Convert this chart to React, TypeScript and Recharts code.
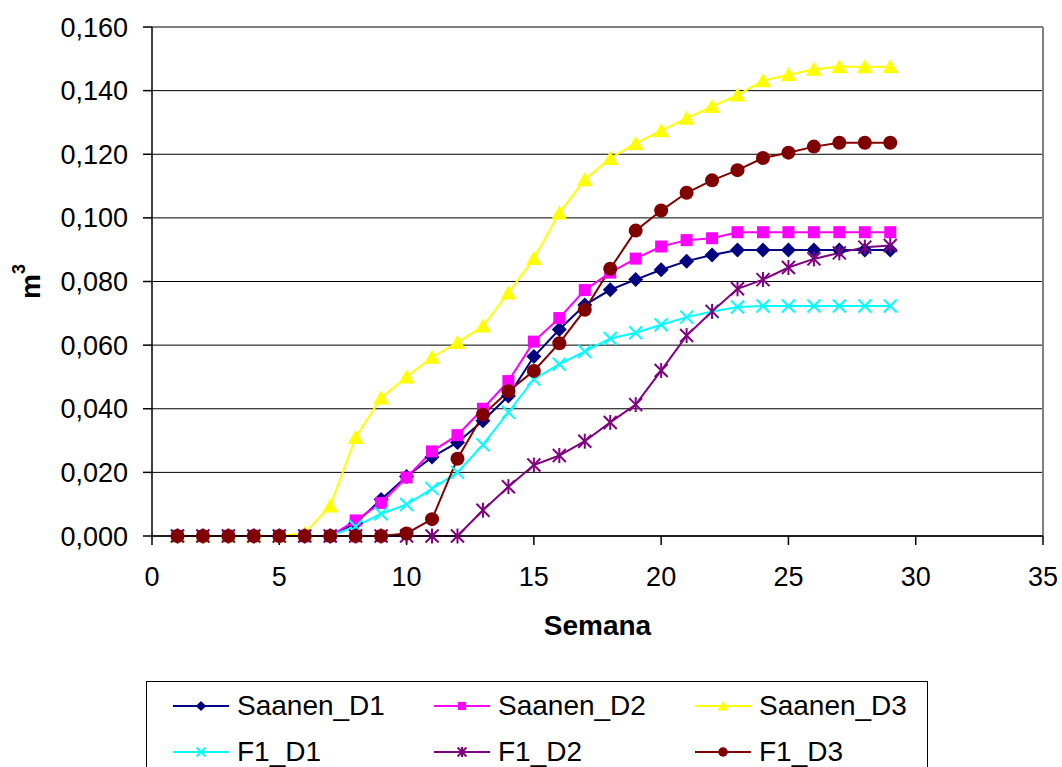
import React from 'react';
import { LineChart, Line, XAxis, YAxis, CartesianGrid, ReferenceLine } from 'recharts';

// Semanas e volumes acumulados (m³) por tratamento
const weeks = [1, 2, 3, 4, 5, 6, 7, 8, 9, 10, 11, 12, 13, 14, 15, 16, 17, 18, 19, 20, 21, 22, 23, 24, 25, 26, 27, 28, 29];

const saanenD1 = [0, 0, 0, 0, 0, 0, 0, 0.004, 0.0115, 0.0187, 0.0248, 0.0294, 0.0362, 0.044, 0.0564, 0.0649, 0.0726, 0.0774, 0.0806, 0.0837, 0.0864, 0.0883, 0.0899, 0.0899, 0.0899, 0.0899, 0.0899, 0.0899, 0.0899];
const saanenD2 = [0, 0, 0, 0, 0, 0, 0, 0.0049, 0.0104, 0.0184, 0.0266, 0.0317, 0.04, 0.0487, 0.0611, 0.0685, 0.0773, 0.0828, 0.0872, 0.091, 0.093, 0.0936, 0.0955, 0.0955, 0.0955, 0.0955, 0.0955, 0.0955, 0.0955];
const saanenD3 = [0, 0, 0, 0, 0, 0.0009, 0.0094, 0.031, 0.0434, 0.05, 0.0562, 0.0608, 0.066, 0.0764, 0.0872, 0.1015, 0.112, 0.1187, 0.1234, 0.1274, 0.1313, 0.135, 0.1386, 0.1431, 0.145, 0.1467, 0.1475, 0.1475, 0.1475];
const f1D1 = [0, 0, 0, 0, 0, 0, 0, 0.003, 0.007, 0.0099, 0.0149, 0.02, 0.0287, 0.0389, 0.0493, 0.054, 0.058, 0.0621, 0.0639, 0.0664, 0.0688, 0.0706, 0.072, 0.0723, 0.0723, 0.0723, 0.0723, 0.0723, 0.0723];
const f1D2 = [0, 0, 0, 0, 0, 0, 0, 0, 0, 0, 0, 0, 0.0081, 0.0155, 0.0223, 0.0253, 0.0298, 0.0357, 0.0413, 0.052, 0.063, 0.0706, 0.0777, 0.0806, 0.0844, 0.0871, 0.089, 0.0908, 0.0913];
const f1D3 = [0, 0, 0, 0, 0, 0, 0, 0, 0, 0.0008, 0.0053, 0.0243, 0.0381, 0.0455, 0.0519, 0.0606, 0.0711, 0.084, 0.096, 0.1023, 0.1079, 0.1118, 0.115, 0.1188, 0.1205, 0.1224, 0.1236, 0.1236, 0.1236];

const xTicks = [0, 5, 10, 15, 20, 25, 30, 35];
const yTicks = [0, 0.02, 0.04, 0.06, 0.08, 0.1, 0.12, 0.14, 0.16];

type Shape = 'diamond' | 'square' | 'triangle' | 'x' | 'star' | 'circle';

const series: { key: string; name: string; color: string; shape: Shape }[] = [
  { key: 'saanenD1', name: 'Saanen_D1', color: '#000080', shape: 'diamond' },
  { key: 'saanenD2', name: 'Saanen_D2', color: '#FF00FF', shape: 'square' },
  { key: 'saanenD3', name: 'Saanen_D3', color: '#FFFF00', shape: 'triangle' },
  { key: 'f1D1', name: 'F1_D1', color: '#00FFFF', shape: 'x' },
  { key: 'f1D2', name: 'F1_D2', color: '#800080', shape: 'star' },
  { key: 'f1D3', name: 'F1_D3', color: '#800000', shape: 'circle' },
];

const data = weeks.map((week, i) => ({
  week,
  saanenD1: saanenD1[i],
  saanenD2: saanenD2[i],
  saanenD3: saanenD3[i],
  f1D1: f1D1[i],
  f1D2: f1D2[i],
  f1D3: f1D3[i],
}));

const FONT = '"Liberation Sans", Arial, sans-serif';

function Marker({ cx, cy, shape, color, s = 1 }: { cx: number; cy: number; shape: Shape; color: string; s?: number }) {
  switch (shape) {
    case 'diamond':
      return <polygon points={`${cx},${cy - 7.5 * s} ${cx + 7.5 * s},${cy} ${cx},${cy + 7.5 * s} ${cx - 7.5 * s},${cy}`} fill={color} />;
    case 'square':
      return <rect x={cx - 6 * s} y={cy - 6 * s} width={12 * s} height={12 * s} fill={color} />;
    case 'triangle':
      return <polygon points={`${cx},${cy - 7.5 * s} ${cx + 8 * s},${cy + 6.5 * s} ${cx - 8 * s},${cy + 6.5 * s}`} fill={color} />;
    case 'x':
      return (
        <g stroke={color} strokeWidth={2}>
          <line x1={cx - 6.5 * s} y1={cy - 6.5 * s} x2={cx + 6.5 * s} y2={cy + 6.5 * s} />
          <line x1={cx - 6.5 * s} y1={cy + 6.5 * s} x2={cx + 6.5 * s} y2={cy - 6.5 * s} />
        </g>
      );
    case 'star':
      return (
        <g stroke={color} strokeWidth={2}>
          <line x1={cx - 6.5 * s} y1={cy - 6.5 * s} x2={cx + 6.5 * s} y2={cy + 6.5 * s} />
          <line x1={cx - 6.5 * s} y1={cy + 6.5 * s} x2={cx + 6.5 * s} y2={cy - 6.5 * s} />
          <line x1={cx} y1={cy - 7.5 * s} x2={cx} y2={cy + 7.5 * s} />
        </g>
      );
    default:
      return <circle cx={cx} cy={cy} r={7 * s} fill={color} />;
  }
}

const fmtY = (v: number) => v.toFixed(3).replace('.', ',');

function YTitle(props: any) {
  const { viewBox } = props;
  const cy = viewBox.y + viewBox.height / 2;
  return (
    <text transform={`translate(40, ${cy}) rotate(-90)`} textAnchor="middle" fontFamily={FONT} fontWeight="bold" fontSize={28} fill="#000">
      m<tspan dy={-15} fontSize={18}>3</tspan>
    </text>
  );
}

function XTitle(props: any) {
  const { viewBox } = props;
  return (
    <text x={viewBox.x + viewBox.width / 2} y={viewBox.y + 99} textAnchor="middle" fontFamily={FONT} fontWeight="bold" fontSize={28} fill="#000">
      Semana
    </text>
  );
}

function LegendBox() {
  return (
    <div
      style={{
        position: 'absolute',
        left: 146,
        top: 681,
        width: 782,
        height: 110,
        border: '1.5px solid #000',
        boxSizing: 'border-box',
        fontFamily: FONT,
        fontSize: 28,
      }}
    >
      {series.map((s, i) => (
        <div
          key={s.key}
          style={{
            position: 'absolute',
            left: 26 + (i % 3) * 261,
            top: 24 + Math.floor(i / 3) * 46 - 16,
            height: 32,
            display: 'flex',
            alignItems: 'center',
            whiteSpace: 'nowrap',
          }}
        >
          <svg width={56} height={20} style={{ marginRight: 8 }}>
            <line x1={0} y1={10} x2={56} y2={10} stroke={s.color} strokeWidth={2} />
            <Marker cx={28} cy={10} shape={s.shape} color={s.color} s={0.68} />
          </svg>
          <span>{s.name}</span>
        </div>
      ))}
    </div>
  );
}

export default function App() {
  return (
    <div style={{ position: 'fixed', left: 0, top: 0, width: 1062, height: 767, background: '#fff', overflow: 'hidden' }}>
      <LineChart width={1062} height={690} data={data} margin={{ top: 27, right: 19, left: 0, bottom: 34 }}>
        <CartesianGrid vertical={false} stroke="#000" strokeWidth={1} />
        <XAxis
          type="number"
          dataKey="week"
          domain={[0, 35]}
          ticks={xTicks}
          height={120}
          tickSize={9}
          tickMargin={22}
          axisLine={{ stroke: '#000', strokeWidth: 1.5 }}
          tickLine={{ stroke: '#000', strokeWidth: 1.5 }}
          tick={{ fill: '#000', fontSize: 27, fontFamily: FONT }}
          label={<XTitle />}
        />
        <YAxis
          type="number"
          domain={[0, 0.16]}
          ticks={yTicks}
          width={152}
          tickSize={9}
          tickMargin={15}
          tickFormatter={fmtY}
          axisLine={{ stroke: '#000', strokeWidth: 1.5 }}
          tickLine={{ stroke: '#000', strokeWidth: 1.5 }}
          tick={{ fill: '#000', fontSize: 27, fontFamily: FONT }}
          label={<YTitle />}
        />
        <ReferenceLine y={0.16} stroke="#808080" strokeWidth={2} />
        <ReferenceLine x={35} stroke="#808080" strokeWidth={2} />
        {series.map((s) => (
          <Line
            key={s.key}
            dataKey={s.key}
            name={s.name}
            type="linear"
            stroke={s.color}
            strokeWidth={2}
            isAnimationActive={false}
            activeDot={false}
            dot={(p: any) => <Marker key={`${s.key}-${p.index}`} cx={p.cx} cy={p.cy} shape={s.shape} color={s.color} />}
          />
        ))}
      </LineChart>
      <LegendBox />
    </div>
  );
}
